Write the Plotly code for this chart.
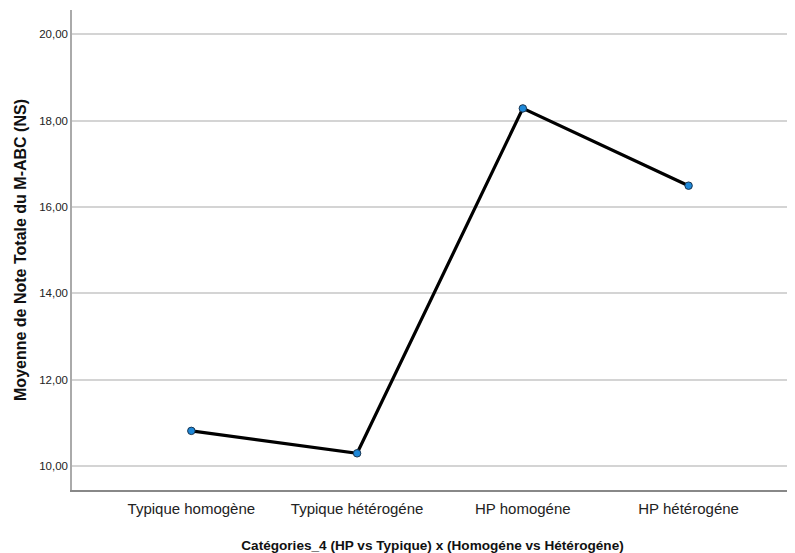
import plotly.graph_objects as go

categories = ["Typique homogène", "Typique hétérogéne", "HP homogéne", "HP hétérogéne"]
means = [10.81, 10.29, 18.28, 16.49]
y_ticks = [10, 12, 14, 16, 18, 20]

REG = "Liberation Sans, Arial, sans-serif"

fig = go.Figure()
fig.add_trace(go.Scatter(
    x=list(range(len(categories))), y=means, mode="lines+markers",
    line=dict(color="black", width=3.2),
    marker=dict(size=7.5, color="#1e88d8", line=dict(color="#1a3550", width=1)),
    showlegend=False,
))

# page body has an 8px default margin: compensate
fig.update_layout(
    width=787, height=545,
    margin=dict(l=64, r=2, t=2, b=63, autoexpand=False),
    paper_bgcolor="white", plot_bgcolor="white",
    separators=", ",
    font=dict(family=REG, color="#222"),
    xaxis=dict(
        range=[-0.72, 3.63], tickmode="array", tickvals=list(range(len(categories))),
        ticktext=categories, showgrid=False, zeroline=False, automargin=False,
        showline=True, linecolor="#888", linewidth=1.5, ticks="",
        ticklabelstandoff=4,
        tickfont=dict(family=REG, size=15, color="#222"),
        title=dict(text="<b>Catégories_4 (HP vs Typique) x (Homogéne vs Hétérogéne)</b>",
                   font=dict(family=REG, size=13.6, color="#111"), standoff=26),
    ),
    yaxis=dict(
        range=[9.44, 20.56], tickmode="array", tickvals=y_ticks, tickformat=".2f",
        showgrid=True, gridcolor="#d4d4d4", gridwidth=1.5, zeroline=False, automargin=False,
        showline=True, linecolor="#aaa", linewidth=1.5, ticks="",
        tickfont=dict(family=REG, size=11.5, color="#222"),
        title=dict(text="<b>Moyenne de Note Totale du M-ABC (NS)</b>",
                   font=dict(family=REG, size=16, color="#111"), standoff=9),
    ),
)

fig.write_html("out.html")
